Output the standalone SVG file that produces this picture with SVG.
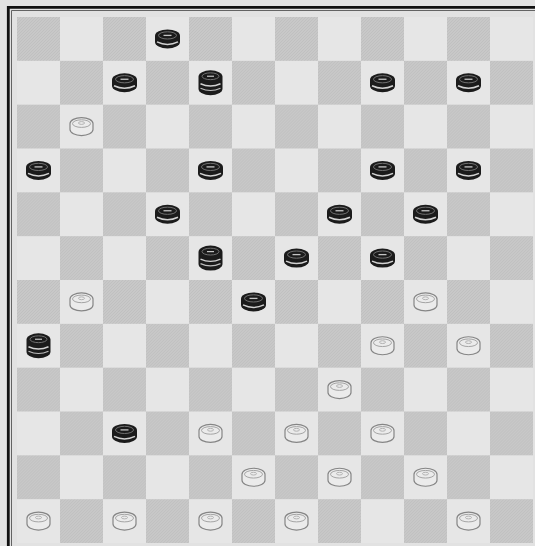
<svg xmlns="http://www.w3.org/2000/svg" xmlns:xlink="http://www.w3.org/1999/xlink" width="535" height="546" viewBox="0 0 535 546">
<style>
.d{fill:url(#hatch)}
.bd{fill:#1b1b1b}
.wd{fill:#ebebeb;stroke:#858585;stroke-width:1.2}
</style>
<defs>
<pattern id="hatch" patternUnits="userSpaceOnUse" width="3" height="3">
<rect width="3" height="3" fill="#c8c8c8"/>
<path d="M0,3 L3,0 M-1,1 L1,-1 M2,4 L4,2" stroke="#bebebe" stroke-width="0.8"/>
</pattern>
<g id="rowE">
<rect class="d" x="17" y="0" width="43" height="43.83"/>
<rect class="d" x="103" y="0" width="43" height="43.83"/>
<rect class="d" x="189" y="0" width="43" height="43.83"/>
<rect class="d" x="275" y="0" width="43" height="43.83"/>
<rect class="d" x="361" y="0" width="43" height="43.83"/>
<rect class="d" x="447" y="0" width="43" height="43.83"/>
</g>
<g id="rowO">
<rect class="d" x="60" y="0" width="43" height="43.83"/>
<rect class="d" x="146" y="0" width="43" height="43.83"/>
<rect class="d" x="232" y="0" width="43" height="43.83"/>
<rect class="d" x="318" y="0" width="43" height="43.83"/>
<rect class="d" x="404" y="0" width="43" height="43.83"/>
<rect class="d" x="490" y="0" width="43" height="43.83"/>
</g>
<g id="bp">
<path class="bd" d="M-12.5,-3 A12.5,6.5 0 0 1 12.5,-3 V3 A12.5,6.5 0 0 1 -12.5,3 Z"/>
<ellipse cx="0" cy="-3.5" rx="9" ry="3.6" fill="none" stroke="#707070" stroke-width="1"/>
<path d="M-4,-3.5 H4" stroke="#c4c4c4" stroke-width="1.3"/>
<path d="M-10.5,3 Q0,8 10.5,3" stroke="#d2d2d2" stroke-width="1.5" fill="none"/>
</g>
<g id="bk">
<path class="bd" d="M-12,-6 A12,6.5 0 0 1 12,-6 V6 A12,6.5 0 0 1 -12,6 Z"/>
<ellipse cx="0" cy="-6.5" rx="8.5" ry="3.4" fill="none" stroke="#707070" stroke-width="1"/>
<path d="M-3.5,-6.5 H3.5" stroke="#c4c4c4" stroke-width="1.2"/>
<path d="M-10,1 Q0,5.5 10,1" stroke="#d2d2d2" stroke-width="1.4" fill="none"/>
<path d="M-10,5.5 Q0,10 10,5.5" stroke="#bdbdbd" stroke-width="1.2" fill="none"/>
</g>
<g id="wp">
<path class="wd" d="M-11.5,-3 A11.5,6 0 0 1 11.5,-3 V3 A11.5,6 0 0 1 -11.5,3 Z"/>
<ellipse cx="0" cy="-3" rx="9" ry="3.8" fill="none" stroke="#a4a4a4" stroke-width="1"/>
<ellipse cx="0" cy="-3.6" rx="3" ry="1.4" fill="none" stroke="#acacac" stroke-width="0.9"/>
</g>
</defs>
<rect x="0" y="0" width="535" height="546" fill="#e2e2e2"/>
<g id="board">
<rect x="17" y="17" width="516" height="526" fill="#e6e6e6"/>
<use href="#rowE" y="17"/>
<use href="#rowO" y="60.83"/>
<use href="#rowE" y="104.67"/>
<use href="#rowO" y="148.5"/>
<use href="#rowE" y="192.33"/>
<use href="#rowO" y="236.17"/>
<use href="#rowE" y="280"/>
<use href="#rowO" y="323.83"/>
<use href="#rowE" y="367.67"/>
<use href="#rowO" y="411.5"/>
<use href="#rowE" y="455.33"/>
<use href="#rowO" y="499.17"/>
</g>
<g id="frame" fill="none">
<path d="M8.3,546 V7.3 H535" stroke="#111" stroke-width="2.8"/>
<path d="M11.5,546 V10.5 H535" stroke="#555" stroke-width="0.9"/>
</g>
<g id="black-pieces">
<g id="b-r0c3"><use href="#bp" x="167.5" y="38.9"/></g>
<g id="b-r1c2"><use href="#bp" x="124.5" y="82.75"/></g>
<g id="bk-r1c4"><use href="#bk" x="210.5" y="82.75"/></g>
<g id="b-r1c8"><use href="#bp" x="382.5" y="82.75"/></g>
<g id="b-r1c10"><use href="#bp" x="468.5" y="82.75"/></g>
<g id="b-r3c0"><use href="#bp" x="38.5" y="170.4"/></g>
<g id="b-r3c4"><use href="#bp" x="210.5" y="170.4"/></g>
<g id="b-r3c8"><use href="#bp" x="382.5" y="170.4"/></g>
<g id="b-r3c10"><use href="#bp" x="468.5" y="170.4"/></g>
<g id="b-r4c3"><use href="#bp" x="167.5" y="214.25"/></g>
<g id="b-r4c7"><use href="#bp" x="339.5" y="214.25"/></g>
<g id="b-r4c9"><use href="#bp" x="425.5" y="214.25"/></g>
<g id="bk-r5c4"><use href="#bk" x="210.5" y="258.1"/></g>
<g id="b-r5c6"><use href="#bp" x="296.5" y="258.1"/></g>
<g id="b-r5c8"><use href="#bp" x="382.5" y="258.1"/></g>
<g id="b-r6c5"><use href="#bp" x="253.5" y="301.9"/></g>
<g id="bk-r7c0"><use href="#bk" x="38.5" y="345.75"/></g>
<g id="b-r9c2"><use href="#bp" x="124.5" y="433.4"/></g>
</g>
<g id="white-pieces">
<g id="w-r2c1"><use href="#wp" x="81.5" y="126.6"/></g>
<g id="w-r6c1"><use href="#wp" x="81.5" y="301.9"/></g>
<g id="w-r6c9"><use href="#wp" x="425.5" y="301.9"/></g>
<g id="w-r7c8"><use href="#wp" x="382.5" y="345.75"/></g>
<g id="w-r7c10"><use href="#wp" x="468.5" y="345.75"/></g>
<g id="w-r8c7"><use href="#wp" x="339.5" y="389.6"/></g>
<g id="w-r9c4"><use href="#wp" x="210.5" y="433.4"/></g>
<g id="w-r9c6"><use href="#wp" x="296.5" y="433.4"/></g>
<g id="w-r9c8"><use href="#wp" x="382.5" y="433.4"/></g>
<g id="w-r10c5"><use href="#wp" x="253.5" y="477.25"/></g>
<g id="w-r10c7"><use href="#wp" x="339.5" y="477.25"/></g>
<g id="w-r10c9"><use href="#wp" x="425.5" y="477.25"/></g>
<g id="w-r11c0"><use href="#wp" x="38.5" y="521.1"/></g>
<g id="w-r11c2"><use href="#wp" x="124.5" y="521.1"/></g>
<g id="w-r11c4"><use href="#wp" x="210.5" y="521.1"/></g>
<g id="w-r11c6"><use href="#wp" x="296.5" y="521.1"/></g>
<g id="w-r11c10"><use href="#wp" x="468.5" y="521.1"/></g>
</g>
</svg>
